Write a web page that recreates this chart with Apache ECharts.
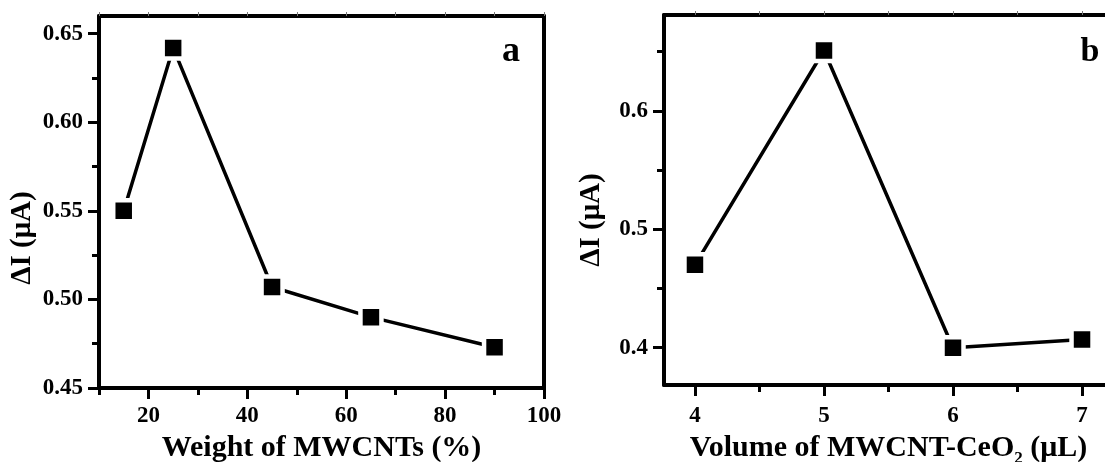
<!DOCTYPE html>
<html>
<head>
<meta charset="utf-8">
<script src="https://cdn.jsdelivr.net/npm/echarts@6/dist/echarts.min.js"></script>
<style>html,body{margin:0;padding:0;background:#fff}#c{width:1105px;height:462px}</style>
</head>
<body>
<div id="c"></div>
<script>
// Panel a data
const aX = [15, 25, 45, 65, 90];
const aY = [0.55, 0.642, 0.507, 0.49, 0.473];
const aXTicks = [20, 40, 60, 80, 100];
const aXMinor = [10, 30, 50, 70, 90];
const aYTicks = [0.45, 0.50, 0.55, 0.60, 0.65];
const aYMinor = [0.475, 0.525, 0.575, 0.625];
const aXTop = [10, 20, 30, 40, 50, 60, 70, 80, 90, 100];
// Panel b data
const bX = [4, 5, 6, 7];
const bY = [0.47, 0.651, 0.40, 0.407];
const bXTicks = [4, 5, 6, 7];
const bXMinor = [4.5, 5.5, 6.5];
const bYTicks = [0.4, 0.5, 0.6];
const bYMinor = [0.45, 0.55, 0.65];
const bXTop = [4, 4.5, 5, 5.5, 6, 6.5, 7];
// Titles
const aXName = 'Weight of MWCNTs (%)';
const bXName = 'Volume of MWCNT-CeO{sub|2} (\u03bcL)';
const yName = '\u0394I (\u03bcA)';

const FONT = "'Liberation Serif','Times New Roman',serif";
const TICKFS = 23;
const chart = echarts.init(document.getElementById('c'), null, {renderer: 'canvas'});

function mainAxis(extra) {
  return Object.assign({
    type: 'value', splitLine: {show: false},
    axisLine: {show: true, onZero: false, lineStyle: {color: '#000', width: 4}},
    axisTick: {show: true, length: 11, lineStyle: {color: '#000', width: 3}},
    axisLabel: {color: '#000', fontFamily: FONT, fontWeight: 'bold', fontSize: TICKFS}
  }, extra);
}
function minorAxis(extra, vals) {
  return Object.assign({
    type: 'value', splitLine: {show: false},
    axisLine: {show: false, onZero: false},
    axisTick: {show: true, length: 7, customValues: vals, lineStyle: {color: '#000', width: 3}},
    axisLabel: {show: false}
  }, extra);
}
function frameAxis(extra, vals) {
  return Object.assign({
    type: 'value', splitLine: {show: false},
    axisLine: {show: true, onZero: false, lineStyle: {color: '#000', width: 4}},
    axisTick: vals ? {show: true, length: 4, customValues: vals, lineStyle: {color: '#777', width: 1}} : {show: false},
    axisLabel: {show: false}
  }, extra);
}

const option = {
  animation: false,
  grid: [
    {left: 99, top: 16, width: 445, height: 372, outerBoundsMode: 'none', containLabel: false},
    {left: 664, top: 15, width: 449, height: 370, outerBoundsMode: 'none', containLabel: false}
  ],
  xAxis: [
    mainAxis({gridIndex: 0, min: 10, max: 100, position: 'bottom',
      axisTick: {show: true, length: 11, customValues: aXTicks, lineStyle: {color: '#000', width: 3}},
      axisLabel: {color: '#000', fontFamily: FONT, fontWeight: 'bold', fontSize: TICKFS, margin: 17, customValues: aXTicks},
      name: aXName, nameLocation: 'middle', nameGap: 34,
      nameTextStyle: {color: '#000', fontFamily: FONT, fontWeight: 'bold', fontSize: 30}}),
    minorAxis({gridIndex: 0, min: 10, max: 100, position: 'bottom'}, aXMinor),
    frameAxis({gridIndex: 0, min: 10, max: 100, position: 'top'}, aXTop),
    mainAxis({gridIndex: 1, min: 3.76, max: 7.24, position: 'bottom',
      axisTick: {show: true, length: 11, customValues: bXTicks, lineStyle: {color: '#000', width: 3}},
      axisLabel: {color: '#000', fontFamily: FONT, fontWeight: 'bold', fontSize: TICKFS, margin: 20, customValues: bXTicks},
      name: bXName, nameLocation: 'middle', nameGap: 37,
      nameTextStyle: {color: '#000', fontFamily: FONT, fontWeight: 'bold', fontSize: 30,
        rich: {sub: {fontFamily: FONT, fontWeight: 'bold', fontSize: 17, padding: [22, 0, 0, 0], color: '#000'}}}}),
    minorAxis({gridIndex: 1, min: 3.76, max: 7.24, position: 'bottom'}, bXMinor),
    frameAxis({gridIndex: 1, min: 3.76, max: 7.24, position: 'top'}, bXTop)
  ],
  yAxis: [
    mainAxis({gridIndex: 0, min: 0.45, max: 0.66, position: 'left',
      axisTick: {show: true, length: 11, customValues: aYTicks, lineStyle: {color: '#000', width: 3}},
      axisLabel: {color: '#000', fontFamily: FONT, fontWeight: 'bold', fontSize: TICKFS, margin: 16, customValues: aYTicks,
        formatter: v => v.toFixed(2)}}),
    minorAxis({gridIndex: 0, min: 0.45, max: 0.66, position: 'left'}, aYMinor),
    frameAxis({gridIndex: 0, min: 0.45, max: 0.66, position: 'right'}, null),
    mainAxis({gridIndex: 1, min: 0.3685, max: 0.681, position: 'left',
      axisTick: {show: true, length: 11, customValues: bYTicks, lineStyle: {color: '#000', width: 3}},
      axisLabel: {color: '#000', fontFamily: FONT, fontWeight: 'bold', fontSize: TICKFS, margin: 16, customValues: bYTicks,
        formatter: v => v.toFixed(1)}}),
    minorAxis({gridIndex: 1, min: 0.3685, max: 0.681, position: 'left'}, bYMinor),
    frameAxis({gridIndex: 1, min: 0.3685, max: 0.681, position: 'right'}, null)
  ],
  series: [
    {type: 'line', xAxisIndex: 0, yAxisIndex: 0, data: aX.map((x, i) => [x, aY[i]]),
      symbol: 'rect', symbolSize: 21, itemStyle: {color: '#000', borderColor: '#fff', borderWidth: 4.5},
      lineStyle: {color: '#000', width: 3.5}, emphasis: {disabled: true}, z: 3},
    {type: 'line', xAxisIndex: 3, yAxisIndex: 3, data: bX.map((x, i) => [x, bY[i]]),
      symbol: 'rect', symbolSize: 21, itemStyle: {color: '#000', borderColor: '#fff', borderWidth: 4.5},
      lineStyle: {color: '#000', width: 3.5}, emphasis: {disabled: true}, z: 3}
  ],
  graphic: [
    {type: 'text', x: 23, y: 238, rotation: Math.PI / 2,
      style: {text: yName, fill: '#000', font: "bold 29px 'Liberation Serif', serif", align: 'center', verticalAlign: 'middle'}},
    {type: 'text', x: 592, y: 220, rotation: Math.PI / 2,
      style: {text: yName, fill: '#000', font: "bold 29px 'Liberation Serif', serif", align: 'center', verticalAlign: 'middle'}},
    {type: 'text', x: 511, y: 52,
      style: {text: 'a', fill: '#000', font: "bold 36px 'Liberation Serif', serif", align: 'center', verticalAlign: 'middle'}},
    {type: 'text', x: 1090, y: 52,
      style: {text: 'b', fill: '#000', font: "bold 34px 'Liberation Serif', serif", align: 'center', verticalAlign: 'middle'}}
  ]
};
chart.setOption(option);
</script>
</body>
</html>
